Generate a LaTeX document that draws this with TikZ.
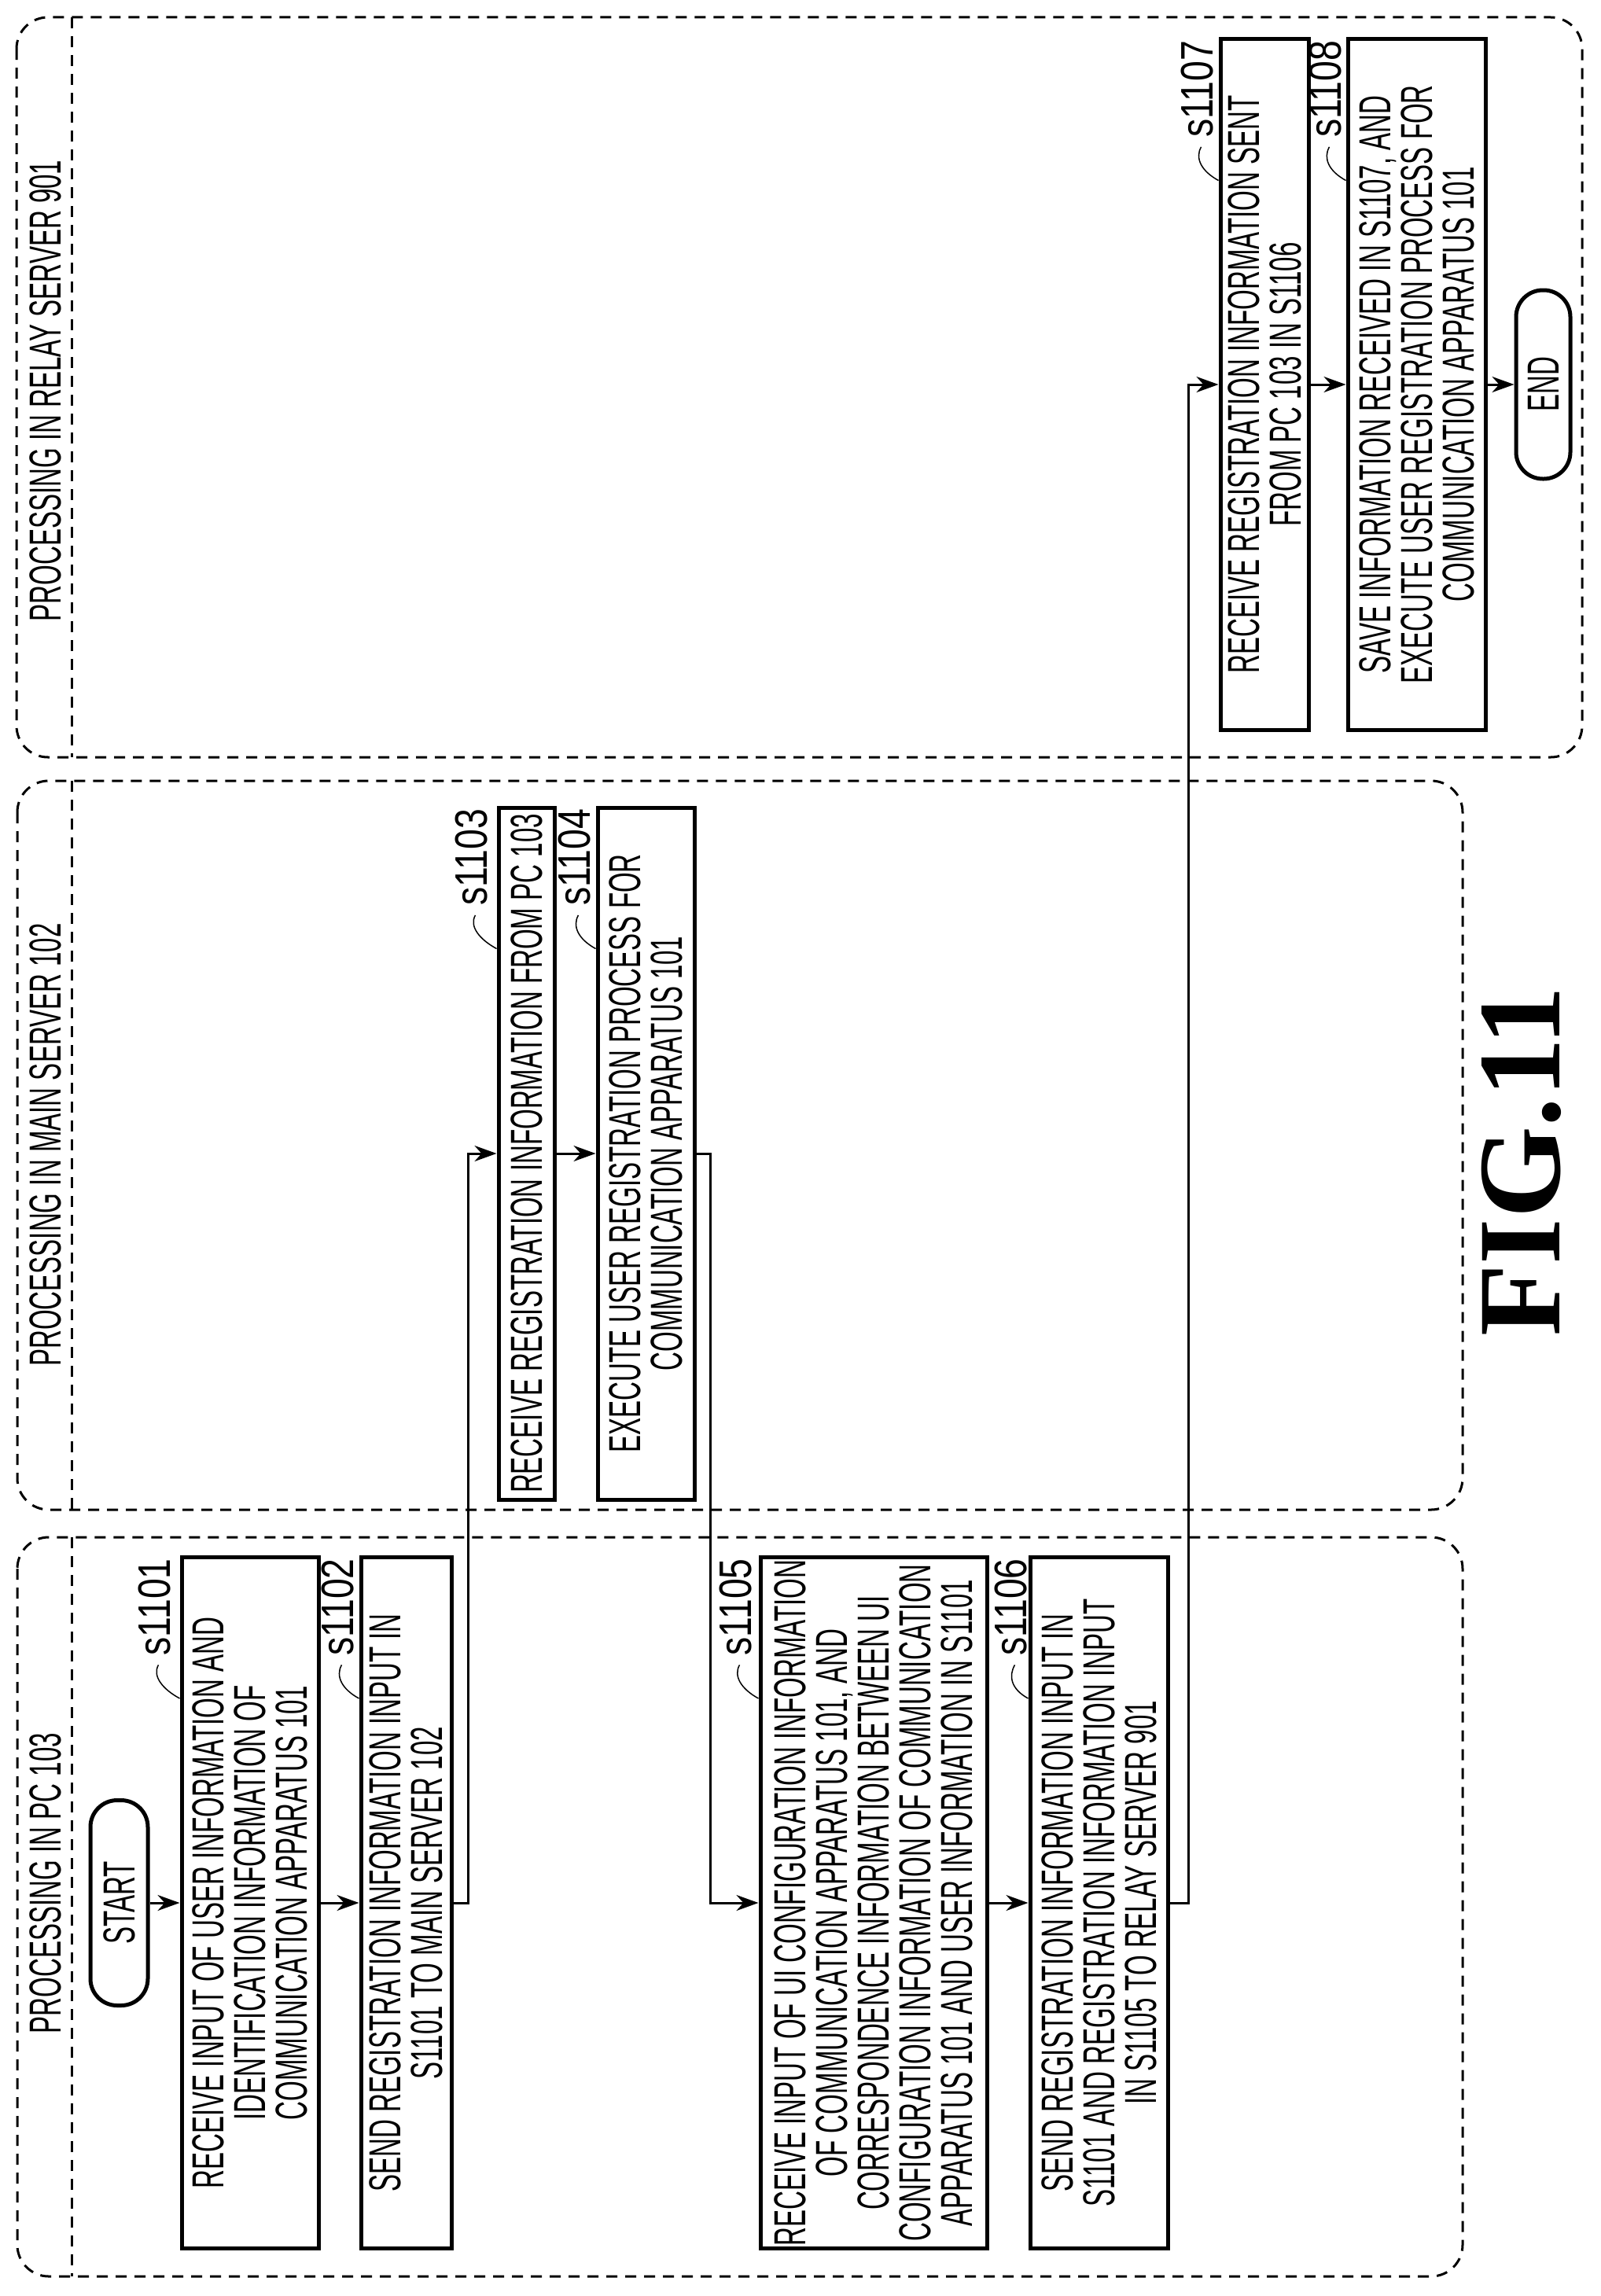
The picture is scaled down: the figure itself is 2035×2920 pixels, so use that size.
\documentclass[tikz,border=0pt]{standalone}
\usepackage{fontspec}
\setmainfont{Liberation Sans}
\newfontfamily\cond[FakeStretch=0.58]{Liberation Sans}
\newfontfamily\labf[FakeStretch=0.8]{Liberation Sans}
\newfontfamily\figf{Liberation Serif}
\usetikzlibrary{arrows.meta,calc}
\begin{document}
\begin{tikzpicture}[x=1pt,y=-1pt,
  lane/.style={draw,line width=3pt,dash pattern=on 14pt off 10pt},
  lanebox/.style={lane,rounded corners=40pt},
  stepbox/.style={draw,line width=5pt,rotate=90,align=center,inner sep=0pt,
    font=\cond\fontsize{57}{53}\selectfont},
  term/.style={draw,line width=5pt,rotate=90,rounded corners=34pt,inner sep=0pt,
    font=\cond\fontsize{57}{53}\selectfont},
  lanelab/.style={rotate=90,inner sep=0pt,font=\cond\fontsize{57}{53}\selectfont},
  steplab/.style={rotate=90,anchor=east,inner sep=0pt,font=\labf\fontsize{58}{58}\selectfont},
  arr/.style={line width=3pt,-{Stealth[length=28pt,width=20pt,inset=9pt]}},
  wire/.style={line width=3pt},
  squig/.style={line width=1.5pt}]
\useasboundingbox (0,0) rectangle (2035,2920);
% lanes
\draw[lanebox] (21,22) rectangle (2012,963);
\draw[lanebox] (22,993) rectangle (1860,1920);
\draw[lanebox] (22,1955) rectangle (1860,2895);
\draw[lane] (91,22) -- (91,963);
\draw[lane] (91,993) -- (91,1920);
\draw[lane] (91,1955) -- (91,2895);
\node[lanelab] (lr) at (58,497) {PROCESSING IN RELAY SERVER 901};
\node[lanelab] (lm) at (58,1456) {PROCESSING IN MAIN SERVER 102};
\node[lanelab] (lp) at (58,2395) {PROCESSING IN PC 103};
% PC lane
\node[term,minimum width=261pt,minimum height=73pt] (start) at (151.5,2420) {START};
\node[stepbox,minimum width=879pt,minimum height=174pt] (s1101) at (318,2420)
 {RECEIVE INPUT OF USER INFORMATION AND\\IDENTIFICATION INFORMATION OF\\COMMUNICATION APPARATUS 101};
\node[stepbox,minimum width=879pt,minimum height=115pt] (s1102) at (516.5,2420)
 {SEND REGISTRATION INFORMATION INPUT IN\\S1101 TO MAIN SERVER 102};
\node[stepbox,minimum width=879pt,minimum height=288pt] (s1105) at (1111,2420)
 {RECEIVE INPUT OF UI CONFIGURATION INFORMATION\\OF COMMUNICATION APPARATUS 101, AND\\CORRESPONDENCE INFORMATION BETWEEN UI\\CONFIGURATION INFORMATION OF COMMUNICATION\\APPARATUS 101 AND USER INFORMATION IN S1101};
\node[stepbox,minimum width=879pt,minimum height=175pt] (s1106) at (1397.5,2420)
 {SEND REGISTRATION INFORMATION INPUT IN\\S1101 AND REGISTRATION INFORMATION INPUT\\IN S1105 TO RELAY SERVER 901};
% main lane
\node[stepbox,minimum width=880pt,minimum height=71pt] (s1103) at (669.5,1467)
 {RECEIVE REGISTRATION INFORMATION FROM PC 103};
\node[stepbox,minimum width=880pt,minimum height=123pt] (s1104) at (821.5,1467)
 {EXECUTE USER REGISTRATION PROCESS FOR\\COMMUNICATION APPARATUS 101};
% relay lane
\node[stepbox,minimum width=878pt,minimum height=112pt] (s1107) at (1608,489)
 {RECEIVE REGISTRATION INFORMATION SENT\\FROM PC 103 IN S1106};
\node[stepbox,minimum width=878pt,minimum height=175pt] (s1108) at (1801.5,489)
 {SAVE INFORMATION RECEIVED IN S1107, AND\\EXECUTE USER REGISTRATION PROCESS FOR\\COMMUNICATION APPARATUS 101};
\node[term,minimum width=240pt,minimum height=69pt] (end) at (1962.5,489) {END};
% step labels
\foreach \b/\dx in {s1101/32,s1102/27,s1105/29,s1106/22,s1103/32,s1104/27,s1107/27,s1108/26}{
  \node[steplab] (l\b) at ($(\b.north east)+(-\dx,4)$) {\MakeUppercase{\b}};
  \draw[squig] ($(l\b.west)+(5,12)$) .. controls +(-8,14) and +(-22,-12) .. ($(\b.north east)+(0,182)$);
}
% connectors
\draw[arr] (start.south) -- (s1101.north);
\draw[arr] (s1101.south) -- (s1102.north);
\draw[arr] (s1102.south) -- ++(19,0) |- (s1103.north);
\draw[arr] (s1103.south) -- (s1104.north);
\draw[arr] (s1104.south) -- ++(18,0) |- (s1105.north);
\draw[arr] (s1105.south) -- (s1106.north);
\draw[arr] (s1106.south) -- ++(24,0) |- (s1107.north);
\draw[arr] (s1107.south) -- (s1108.north);
\draw[arr] (s1108.south) -- (end.north);
% figure label
\node[rotate=90,inner sep=0pt,font=\figf\bfseries\fontsize{150}{150}\selectfont] (fig) at (1935,1477) {FIG.11};
\end{tikzpicture}
\end{document}
